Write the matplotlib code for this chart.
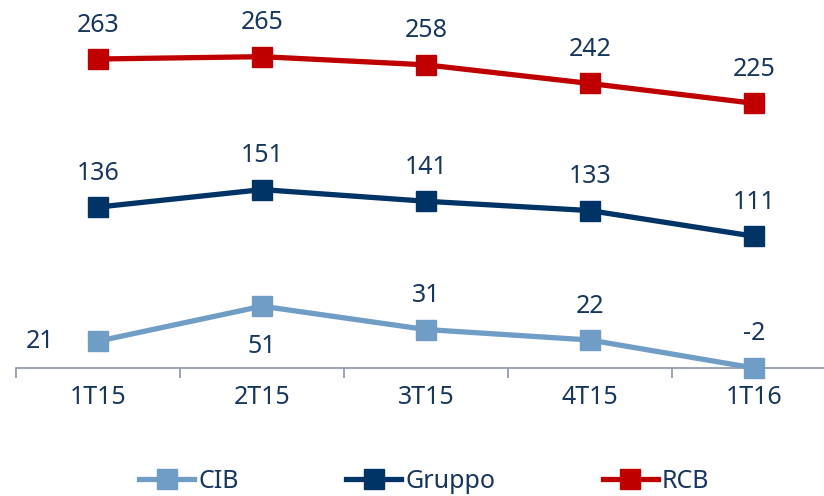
import matplotlib.pyplot as plt
from matplotlib.ticker import FixedLocator

periods = ["1T15", "2T15", "3T15", "4T15", "1T16"]
cib = [21, 51, 31, 22, -2]
gruppo = [136, 151, 141, 133, 111]
rcb = [263, 265, 258, 242, 225]

text_color = "#17365D"
colors = {"CIB": "#6F9DC6", "Gruppo": "#003366", "RCB": "#C00000"}

plt.rcParams["font.family"] = ["Noto Sans", "DejaVu Sans"]

fig = plt.figure(figsize=(8.24, 4.96), dpi=100)
ax = fig.add_axes([16 / 824, 1 - 368 / 496, 820 / 824, 368 / 496])
ax.set_facecolor("none")

x = list(range(len(periods)))
series = [("CIB", cib), ("Gruppo", gruppo), ("RCB", rcb)]
for name, vals in series:
    ax.plot(x, vals, color=colors[name], lw=3.8, marker="s", ms=14.5,
            label=name, clip_on=False, zorder=3)

# etichette valori: di default sopra il marcatore
label_off = {("CIB", 0): (-58, 0), ("CIB", 1): (0, -40)}
for name, vals in series:
    for i, v in enumerate(vals):
        dx, dy = label_off.get((name, i), (0, 34))
        ax.annotate(str(v), (i, v), xytext=(dx, dy), textcoords="offset pixels",
                    ha="center", va="center", fontsize=18, color=text_color)

ax.set_xlim(-0.5, 4.5)
ax.set_ylim(-2, 313.6)
ax.set_yticks([])
for s in ["left", "top", "right"]:
    ax.spines[s].set_visible(False)
ax.spines["bottom"].set_color("#8C96A8")
ax.spines["bottom"].set_linewidth(1.2)

ax.xaxis.set_major_locator(FixedLocator(x))
ax.set_xticklabels(periods, fontsize=18, color=text_color)
ax.tick_params(axis="x", which="major", length=0, pad=12)
ax.xaxis.set_minor_locator(FixedLocator([i - 0.5 for i in range(len(periods) + 1)]))
ax.tick_params(axis="x", which="minor", length=7, width=1.2, color="#8C96A8", direction="out")

fig.legend(loc="center", bbox_to_anchor=(0.515, 0.03), ncol=3, frameon=False,
           fontsize=18, labelcolor=text_color, handlelength=2.2, handletextpad=0.16,
           columnspacing=4.3, borderpad=0, borderaxespad=0)

fig.savefig("out.png", dpi=100)
